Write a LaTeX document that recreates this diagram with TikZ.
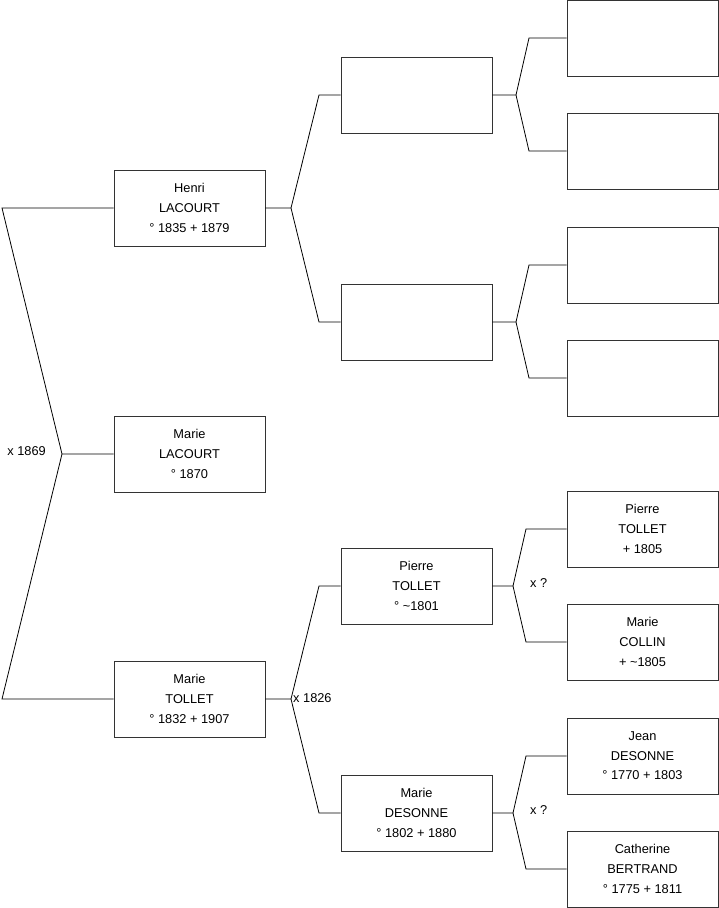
\documentclass[tikz,border=0pt]{standalone}
\usepackage{fontspec}
\setmainfont{Liberation Sans}
\begin{document}
\begin{tikzpicture}[x=1pt,y=-1pt,
 person/.style={draw=black!80, line width=0.8pt, minimum width=151pt, minimum height=76pt, inner sep=0pt, align=center, font=\fontsize{12.8}{19.6}\selectfont},
 link/.style={draw=black, line width=0.8pt},
 lbl/.style={font=\fontsize{12.8}{14}\selectfont, inner sep=0pt}]
\useasboundingbox (0,0) rectangle (719,908);
% generation 1
\node[person] (henri) at (189.5,208) {Henri\\LACOURT\\° 1835 + 1879};
\node[person] (marieL) at (189.5,454) {Marie\\LACOURT\\° 1870};
\node[person] (marieT) at (189.5,699) {Marie\\TOLLET\\° 1832 + 1907};
% generation 2
\node[person] (g2a) at (416.5,95) {};
\node[person] (g2b) at (416.5,322) {};
\node[person] (pierre) at (416.5,586) {Pierre\\TOLLET\\° \textasciitilde1801};
\node[person] (marieD) at (416.5,813) {Marie\\DESONNE\\° 1802 + 1880};
% generation 3
\node[person] (g3a) at (642.5,38) {};
\node[person] (g3b) at (642.5,151) {};
\node[person] (g3c) at (642.5,265) {};
\node[person] (g3d) at (642.5,378) {};
\node[person] (pierreT) at (642.5,529) {Pierre\\TOLLET\\+ 1805};
\node[person] (marieC) at (642.5,642) {Marie\\COLLIN\\+ \textasciitilde1805};
\node[person] (jean) at (642.5,756) {Jean\\DESONNE\\° 1770 + 1803};
\node[person] (catherine) at (642.5,869) {Catherine\\BERTRAND\\° 1775 + 1811};
% fork points
\coordinate (v0) at (62,454); \coordinate (k0a) at (2,208); \coordinate (k0b) at (2,699);
\coordinate (v1) at (291,208); \coordinate (k1a) at (319,95); \coordinate (k1b) at (319,322);
\coordinate (v2) at (516,95); \coordinate (k2a) at (529,38); \coordinate (k2b) at (529,151);
\coordinate (v3) at (516,322); \coordinate (k3a) at (529,265); \coordinate (k3b) at (529,378);
\coordinate (v4) at (291,699); \coordinate (k4a) at (319,586); \coordinate (k4b) at (319,813);
\coordinate (v5) at (513,586); \coordinate (k5a) at (526,529); \coordinate (k5b) at (526,642);
\coordinate (v6) at (513,813); \coordinate (k6a) at (526,756); \coordinate (k6b) at (526,869);
% connectors
\draw[link] (marieL.west) -- (v0) -- (k0a) -- (henri.west);
\draw[link] (v0) -- (k0b) -- (marieT.west);
\draw[link] (henri.east) -- (v1) -- (k1a) -- (g2a.west);
\draw[link] (v1) -- (k1b) -- (g2b.west);
\draw[link] (g2a.east) -- (v2) -- (k2a) -- (g3a.west);
\draw[link] (v2) -- (k2b) -- (g3b.west);
\draw[link] (g2b.east) -- (v3) -- (k3a) -- (g3c.west);
\draw[link] (v3) -- (k3b) -- (g3d.west);
\draw[link] (marieT.east) -- (v4) -- (k4a) -- (pierre.west);
\draw[link] (v4) -- (k4b) -- (marieD.west);
\draw[link] (pierre.east) -- (v5) -- (k5a) -- (pierreT.west);
\draw[link] (v5) -- (k5b) -- (marieC.west);
\draw[link] (marieD.east) -- (v6) -- (k6a) -- (jean.west);
\draw[link] (v6) -- (k6b) -- (catherine.west);
% marriage labels
\node[lbl, anchor=east] (m1) at (46,451) {x 1869};
\node[lbl, anchor=west] (m2) at (293,698) {x 1826};
\node[lbl, anchor=west] (m3) at (530,583) {x ?};
\node[lbl, anchor=west] (m4) at (530,810) {x ?};
\end{tikzpicture}
\end{document}
